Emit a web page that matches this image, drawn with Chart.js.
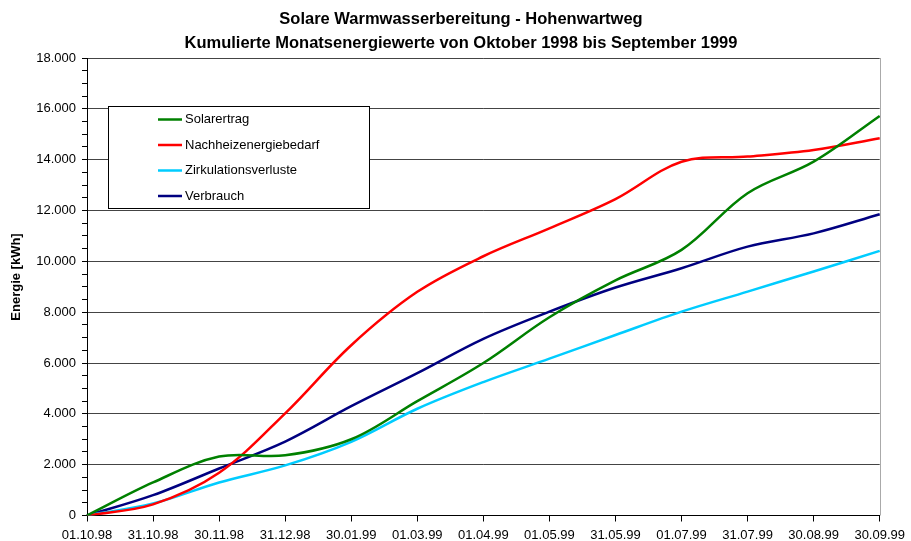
<!DOCTYPE html>
<html>
<head>
<meta charset="utf-8">
<script src="https://cdn.jsdelivr.net/npm/chart.js@4/dist/chart.umd.min.js"></script>
<style>
  html, body { margin: 0; padding: 0; background: #fff; }
  #wrap { width: 911px; height: 541px; }
</style>
</head>
<body>
<div id="wrap"><canvas id="grafik" width="911" height="541"></canvas></div>
<script>
// Kategorien (Monatsenden)
const datum = ['01.10.98', '31.10.98', '30.11.98', '31.12.98', '30.01.99', '01.03.99', '01.04.99',
               '01.05.99', '31.05.99', '01.07.99', '31.07.99', '30.08.99', '30.09.99'];

// kumulierte Werte in kWh
const solarertrag   = [0, 1300, 2320, 2370, 3000, 4500, 6000, 7800, 9250, 10450, 12680, 13920, 15720];
const nachheizung   = [0, 440, 1680, 4020, 6700, 8800, 10200, 11300, 12450, 13920, 14120, 14380, 14840];
const zirkulation   = [0, 470, 1300, 1970, 2900, 4200, 5250, 6170, 7100, 8020, 8810, 9600, 10410];
const verbrauch     = [0, 800, 1850, 2910, 4300, 5600, 6950, 8020, 8970, 9730, 10580, 11100, 11850];

const titelZeilen = ['Solare Warmwasserbereitung - Hohenwartweg',
                     'Kumulierte Monatsenergiewerte von Oktober 1998 bis September 1999'];
const achsenTitel = 'Energie [kWh]';

const schrift = '"Liberation Sans", Arial, sans-serif';

function tausender(v) {
    return String(v).replace(/\B(?=(\d{3})+(?!\d))/g, '.');
}

// Titel, Achsentitel, Legendenkasten und rechter Rahmen
const extras = {
    id: 'extras',
    afterDraw(chart) {
        const ctx = chart.ctx;
        const a = chart.chartArea;
        ctx.save();

        // rechter Rand
        ctx.strokeStyle = '#aaaaaa';
        ctx.lineWidth = 1;
        ctx.beginPath();
        ctx.moveTo(Math.round(a.right) + 0.5, a.top);
        ctx.lineTo(Math.round(a.right) + 0.5, a.bottom);
        ctx.stroke();

        // Titel
        ctx.fillStyle = '#000';
        ctx.textAlign = 'center';
        ctx.textBaseline = 'middle';
        ctx.font = 'bold 16.5px ' + schrift;
        ctx.fillText(titelZeilen[0], 461, 19.5);
        ctx.fillText(titelZeilen[1], 461, 43);

        // y-Achsentitel
        ctx.save();
        ctx.translate(16, 277);
        ctx.rotate(-Math.PI / 2);
        ctx.font = 'bold 13px ' + schrift;
        ctx.fillText(achsenTitel, 0, 0);
        ctx.restore();

        // Legende
        ctx.fillStyle = '#fff';
        ctx.fillRect(108.5, 106.5, 261, 102);
        ctx.strokeStyle = '#000';
        ctx.lineWidth = 1;
        ctx.strokeRect(108.5, 106.5, 261, 102);
        ctx.font = '13px ' + schrift;
        ctx.textAlign = 'left';
        chart.data.datasets.forEach(function(ds, i) {
            const y = 119.5 + i * 25.5;
            ctx.strokeStyle = ds.borderColor;
            ctx.lineWidth = 2.5;
            ctx.beginPath();
            ctx.moveTo(158, y);
            ctx.lineTo(182, y);
            ctx.stroke();
            ctx.fillStyle = '#000';
            ctx.fillText(ds.label, 185, y);
        });
        ctx.restore();
    }
};

function linie(label, werte, farbe) {
    return {
        label: label,
        data: werte,
        borderColor: farbe,
        backgroundColor: farbe,
        borderWidth: 2.5,
        pointRadius: 0,
        tension: 0.35,
        fill: false
    };
}

new Chart(document.getElementById('grafik'), {
    type: 'line',
    data: {
        labels: datum,
        datasets: [
            linie('Solarertrag', solarertrag, '#008000'),
            linie('Nachheizenergiebedarf', nachheizung, '#ff0000'),
            linie('Zirkulationsverluste', zirkulation, '#00ccff'),
            linie('Verbrauch', verbrauch, '#000080')
        ]
    },
    options: {
        responsive: false,
        animation: false,
        layout: { padding: { top: 58, right: 24.5, bottom: 0, left: 0 } },
        plugins: {
            legend: { display: false },
            title: { display: false },
            tooltip: { enabled: false }
        },
        scales: {
            x: {
                offset: false,
                afterFit(s) { s.height = 25.5; },
                border: { color: '#000', width: 1 },
                grid: { drawOnChartArea: false, tickLength: 6, tickColor: '#000' },
                ticks: {
                    autoSkip: false, maxRotation: 0, padding: 6,
                    color: '#000', font: { family: schrift, size: 13 }
                }
            },
            y: {
                min: 0, max: 18000,
                afterFit(s) { s.width = 87; },
                border: { color: '#000', width: 1 },
                grid: {
                    color: ctx => (ctx.tick && ctx.tick.value % 2000 === 0) ? '#444' : 'rgba(0,0,0,0)',
                    tickColor: '#000',
                    tickLength: 5
                },
                ticks: {
                    stepSize: 500, autoSkip: false, padding: 6,
                    color: '#000', font: { family: schrift, size: 13 },
                    callback: v => (v % 2000 === 0 ? tausender(v) : '')
                }
            }
        }
    },
    plugins: [extras]
});
</script>
</body>
</html>
